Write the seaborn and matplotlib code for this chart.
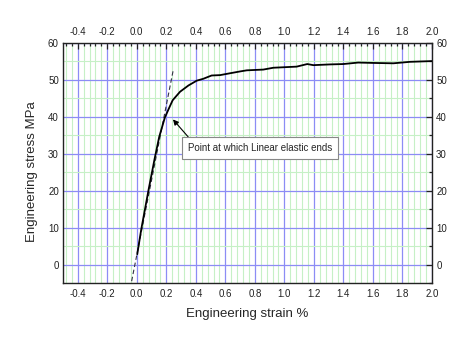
import numpy as np
import pandas as pd
import matplotlib
matplotlib.use("Agg")
import matplotlib.pyplot as plt
import seaborn as sns
from matplotlib.ticker import MultipleLocator

# ---- data ----
strain = [0.003, 0.03, 0.08, 0.12, 0.152, 0.19, 0.22, 0.243, 0.293, 0.35, 0.406,
          0.45, 0.507, 0.564, 0.631, 0.70, 0.745, 0.857, 0.925, 1.083, 1.155,
          1.196, 1.309, 1.399, 1.50, 1.602, 1.738, 1.851, 1.998]
stress = [2.8, 9.5, 20.3, 28.5, 34.6, 39.8, 42.5, 44.5, 46.8, 48.5, 49.8,
          50.3, 51.2, 51.3, 51.8, 52.3, 52.6, 52.8, 53.3, 53.6, 54.3,
          54.0, 54.2, 54.3, 54.7, 54.6, 54.5, 54.9, 55.1]
elastic_strain = [-0.035, 0.247]
elastic_stress = [-4.5, 52.7]
annotation_text = "Point at which Linear elastic ends"
annot_point = (0.245, 39.3)
annot_text_pos = (0.835, 31.5)
xlabel = "Engineering strain %"
ylabel = "Engineering stress MPa"

sns.set_style("white")
plt.rcParams['font.family'] = ['Liberation Sans', 'DejaVu Sans']

fig = plt.figure(figsize=(4.74, 3.45), dpi=100)
ax = fig.add_axes([63/474, 1-283/345, (432-63)/474, (283-43)/345])

df = pd.DataFrame({"strain": strain, "stress": stress})
de = pd.DataFrame({"strain": elastic_strain, "stress": elastic_stress})

sns.lineplot(data=de, x="strain", y="stress", ax=ax, color="#333344", lw=0.8,
             linestyle=(0, (4, 2.5)), estimator=None, zorder=3)
sns.lineplot(data=df, x="strain", y="stress", ax=ax, color="black", lw=1.3,
             estimator=None, sort=False, zorder=4)

ax.set_xlim(-0.5, 2.0)
ax.set_ylim(-5, 60)
ax.xaxis.set_major_locator(MultipleLocator(0.2))
ax.xaxis.set_minor_locator(MultipleLocator(0.04))
ax.yaxis.set_major_locator(MultipleLocator(10))
ax.yaxis.set_minor_locator(MultipleLocator(5))

ax.grid(which="minor", color="#c6f0c6", lw=0.8, zorder=0)
ax.grid(which="major", color="#8c8cf5", lw=0.9, zorder=1)
ax.set_axisbelow(True)

ax.tick_params(which="both", direction="in", top=True, right=True,
               labeltop=True, labelright=True, labelsize=7, colors="#222222",
               width=0.9)
ax.tick_params(which="major", length=4.5, pad=3)
ax.tick_params(axis="x", which="major", pad=4)
ax.tick_params(which="minor", length=2.5)
ax.xaxis.set_major_formatter(matplotlib.ticker.FormatStrFormatter('%.1f'))
for s in ax.spines.values():
    s.set_color("#222222")
    s.set_linewidth(1.0)

ax.set_xlabel(xlabel, fontsize=9.5, labelpad=7)
ax.set_ylabel(ylabel, fontsize=9.5)
ax.yaxis.set_label_coords(-0.069, 0.4625)

ax.annotate(annotation_text, xy=annot_point, xytext=annot_text_pos,
            ha="center", va="center", fontsize=7,
            bbox=dict(boxstyle="square,pad=0.6", fc="white", ec="#888888", lw=0.8),
            arrowprops=dict(arrowstyle="-|>", color="black", lw=0.8,
                            relpos=(0.04, 1.0), shrinkA=0, shrinkB=0,
                            mutation_scale=8),
            zorder=5)

fig.savefig("out.png", dpi=100)
